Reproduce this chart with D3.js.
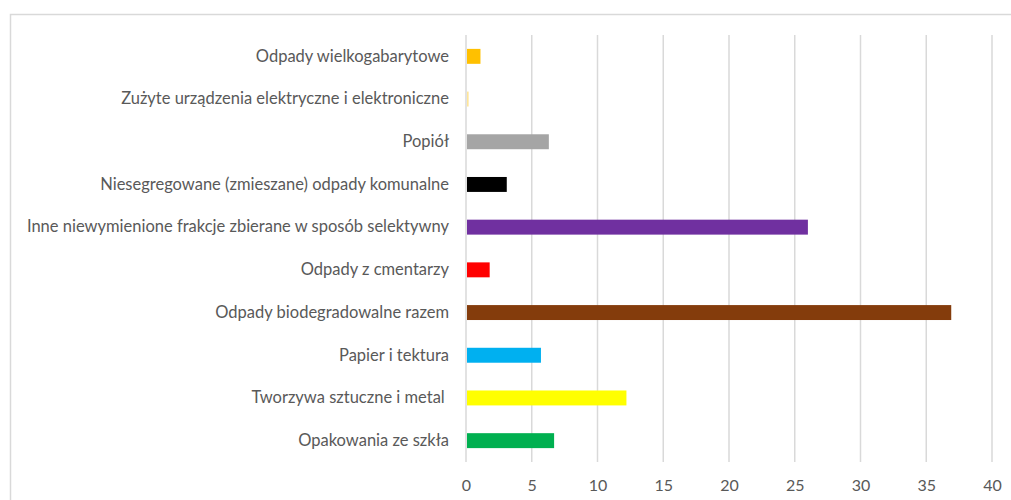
<!DOCTYPE html>
<html>
<head>
<meta charset="utf-8">
<script src="https://cdn.jsdelivr.net/npm/d3@7"></script>
<style>
  body { margin: 0; background: #fff; }
  text { font-family: Lato, "Open Sans", sans-serif; fill: #595959; white-space: pre; }
</style>
</head>
<body>
<div id="chart"></div>
<script>
var svgWidth = 1011;
var svgHeight = 500;

// categories top to bottom
var categories = [
    "Odpady wielkogabarytowe",
    "Zużyte urządzenia elektryczne i elektroniczne",
    "Popiół",
    "Niesegregowane (zmieszane) odpady komunalne",
    "Inne niewymienione frakcje zbierane w sposób selektywny",
    "Odpady z cmentarzy",
    "Odpady biodegradowalne razem",
    "Papier i tektura",
    "Tworzywa sztuczne i metal ",
    "Opakowania ze szkła"
];
var values = [1.1, 0.2, 6.3, 3.1, 26.0, 1.8, 36.9, 5.7, 12.2, 6.7];
var colors = ["#FFC000", "#FFE699", "#A5A5A5", "#000000", "#7030A0", "#FF0000", "#843C0C", "#00B0F0", "#FFFF00", "#00B050"];
var xTicks = [0, 5, 10, 15, 20, 25, 30, 35, 40];

var margin = {top: 35, left: 466, right: 19, bottom: 38};
var width = svgWidth - margin.left - margin.right;
var height = svgHeight - margin.top - margin.bottom;

var svg = d3.select("#chart").append("svg").attr("width", svgWidth).attr("height", svgHeight);

// outer frame
svg.append("rect").attr("x", 10.5).attr("y", 14.5).attr("width", 1020).attr("height", 500)
    .attr("fill", "none").attr("stroke", "#d9d9d9").attr("stroke-width", 1.5);

var chartGroup = svg.append("g").attr("transform", `translate(${margin.left},${margin.top})`);

var xScale = d3.scaleLinear().domain([0, 40]).range([0, width]);
var yScale = d3.scaleBand().domain(categories).range([0, height]).paddingInner(0.65).paddingOuter(0.325);

// gridlines
chartGroup.selectAll(".grid").data(xTicks).enter().append("line")
    .attr("x1", d => xScale(d)).attr("x2", d => xScale(d))
    .attr("y1", 0).attr("y2", height)
    .attr("stroke", "#d9d9d9").attr("stroke-width", 1.5);

// bars
chartGroup.selectAll(".bar").data(values).enter().append("rect")
    .attr("x", xScale(0) + 1)
    .attr("y", (d, i) => yScale(categories[i]))
    .attr("width", d => Math.max(0, xScale(d) - xScale(0) - 1))
    .attr("height", yScale.bandwidth())
    .attr("fill", (d, i) => colors[i]);

// category labels
var leftAxis = d3.axisLeft(yScale).tickSize(0).tickPadding(17);
var yAxis = chartGroup.append("g").call(leftAxis);
yAxis.select(".domain").remove();
yAxis.selectAll("text").attr("font-size", "16.5px").attr("fill", "#595959")
    .style("font-family", "Lato, 'Open Sans', sans-serif");

// x tick labels
var bottomAxis = d3.axisBottom(xScale).tickValues(xTicks).tickSize(0).tickPadding(18);
var xAxis = chartGroup.append("g").attr("transform", `translate(0,${height})`).call(bottomAxis);
xAxis.select(".domain").remove();
xAxis.selectAll("text").attr("font-size", "16px").attr("fill", "#595959")
    .style("font-family", "Lato, 'Open Sans', sans-serif");
</script>
</body>
</html>
